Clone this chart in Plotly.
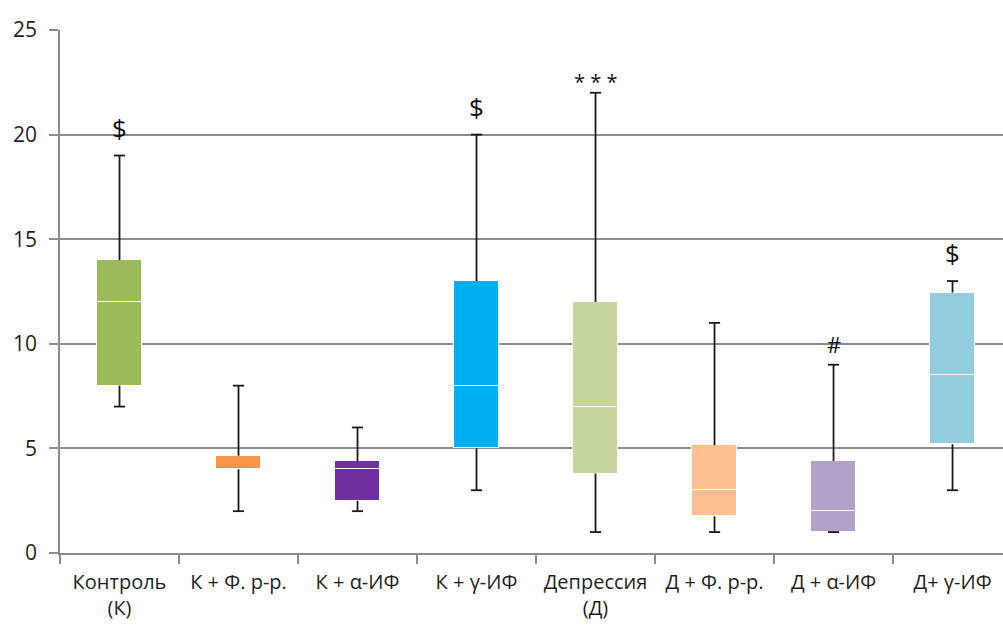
import plotly.graph_objects as go

categories = ["Контроль<br>(К)", "К + Ф. р-р.", "К + α-ИФ", "К + γ-ИФ",
              "Депрессия<br>(Д)", "Д + Ф. р-р.", "Д + α-ИФ", "Д+ γ-ИФ"]
q1 = [8, 4, 2.5, 5, 3.8, 1.75, 1.0, 5.2]
median = [12, 4, 4, 8, 7, 3, 2, 8.5]
q3 = [14, 4.65, 4.4, 13, 12, 5.15, 4.4, 12.45]
whisker_min = [7, 2, 2, 3, 1, 1, 1, 3]
whisker_max = [19, 8, 6, 20, 22, 11, 9, 13]
colors = ["#9BBB59", "#F79646", "#7030A0", "#00B0F0",
          "#C3D69B", "#FAC090", "#B3A2C7", "#93CDDD"]
marks = ["$", "", "", "$", "***", "", "#", "$"]

font_family = "'Open Sans', 'Noto Sans', sans-serif"
box_w = 0.385
whisker_color = "#1a1a1a"

fig = go.Figure()

# lower part of the box (q1 -> median)
fig.add_trace(go.Bar(
    x=categories, y=[m - a for m, a in zip(median, q1)], base=q1,
    width=box_w, marker=dict(color=colors, line=dict(color="white", width=1)),
    hoverinfo="skip", showlegend=False))
# upper part of the box (median -> q3)
fig.add_trace(go.Bar(
    x=categories, y=[b - m for b, m in zip(q3, median)], base=median,
    width=box_w, marker=dict(color=colors, line=dict(color="white", width=1)),
    hoverinfo="skip", showlegend=False))

# upper whiskers (line from q3 to max)
fig.add_trace(go.Scatter(
    x=categories, y=whisker_max, mode="markers",
    marker=dict(symbol="line-ew", size=8, color=whisker_color,
                line=dict(color=whisker_color, width=1.8)),
    error_y=dict(type="data", symmetric=False,
                 array=[0] * len(q3),
                 arrayminus=[mx - b for mx, b in zip(whisker_max, q3)],
                 color=whisker_color, thickness=1.8, width=0),
    hoverinfo="skip", showlegend=False))
# lower whiskers (line from min to q1)
fig.add_trace(go.Scatter(
    x=categories, y=whisker_min, mode="markers",
    marker=dict(symbol="line-ew", size=8, color=whisker_color,
                line=dict(color=whisker_color, width=1.8)),
    error_y=dict(type="data", symmetric=False,
                 array=[a - mn for a, mn in zip(q1, whisker_min)],
                 arrayminus=[0] * len(q1),
                 color=whisker_color, thickness=1.8, width=0),
    hoverinfo="skip", showlegend=False))

for cat, mk, mx in zip(categories, marks, whisker_max):
    if not mk:
        continue
    if mk == "***":
        txt, size, shift = "* * *", 20, -4
    elif mk == "#":
        txt, size, shift = mk, 22, 4
    else:
        txt, size, shift = mk, 26, 8
    fig.add_annotation(
        x=cat, y=mx, text=txt, showarrow=False, yanchor="bottom", yshift=shift,
        font=dict(family=font_family, size=size, color="#111111"))

fig.update_layout(
    width=1003, height=626,
    margin=dict(l=60, r=0, t=30, b=73),
    plot_bgcolor="white", paper_bgcolor="white",
    barmode="overlay", bargap=0,
    font=dict(family=font_family, size=20, color="#1f1f1f"),
    xaxis=dict(type="category", range=[-0.5, 7.424],
               showline=True, linecolor="#8c8c8c", linewidth=1.5,
               ticks="outside", tickson="boundaries", ticklen=9,
               tickcolor="#8c8c8c", tickwidth=1.5, ticklabelstandoff=10,
               showgrid=False, tickfont=dict(size=20)),
    yaxis=dict(range=[0, 25], dtick=5, tick0=0,
               showline=True, linecolor="#8c8c8c", linewidth=1.5,
               ticks="outside", ticklen=9, tickcolor="#8c8c8c", tickwidth=1.5,
               ticklabelstandoff=8,
               showgrid=True, gridcolor="#8c8c8c", gridwidth=1.5,
               zeroline=False, tickfont=dict(size=21)),
)

fig.write_html("out.html")
